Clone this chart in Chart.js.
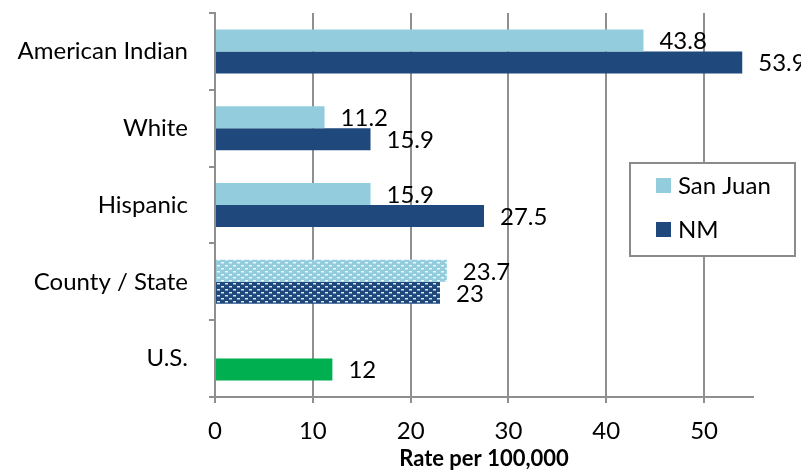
<!DOCTYPE html>
<html>
<head>
<meta charset="utf-8">
<script src="https://cdn.jsdelivr.net/npm/chart.js@4.4.1/dist/chart.umd.min.js"></script>
<style>
  html, body { margin: 0; padding: 0; background: #fff; }
  #wrap { width: 801px; height: 470px; }
</style>
</head>
<body>
<div id="wrap"><canvas id="rateChart" width="801" height="470"></canvas></div>
<script>
// dados do gráfico
const categories = ['American Indian', 'White', 'Hispanic', 'County / State', 'U.S.'];
const sanJuan = [43.8, 11.2, 15.9, 23.7, null];
const nm = [53.9, 15.9, 27.5, 23, 12];
const xTicks = [0, 10, 20, 30, 40, 50];

const lightBlue = '#93CDDD';
const darkBlue = '#1F497D';
const green = '#00B050';
const gridGray = '#8f8f8f';
const fontFamily = 'Lato, "Liberation Sans", sans-serif';

// padrão pontilhado para as barras County / State
function dotPattern(base) {
  const c = document.createElement('canvas');
  c.width = 8; c.height = 6;
  const g = c.getContext('2d');
  g.fillStyle = base;
  g.fillRect(0, 0, 8, 6);
  g.fillStyle = 'rgba(255,255,255,0.85)';
  g.fillRect(1, 1, 3, 1.5);
  g.fillRect(5, 4, 3, 1.5);
  return document.getElementById('rateChart').getContext('2d').createPattern(c, 'repeat');
}

const sjColors = categories.map((c, i) => i === 3 ? dotPattern(lightBlue) : lightBlue);
const nmColors = categories.map((c, i) => i === 3 ? dotPattern(darkBlue) : (i === 4 ? green : darkBlue));

// rótulos de valor à direita das barras
const valueLabels = {
  id: 'valueLabels',
  afterDatasetsDraw(chart) {
    const ctx = chart.ctx;
    ctx.save();
    ctx.font = '24px ' + fontFamily;
    ctx.fillStyle = '#000';
    ctx.textAlign = 'left';
    ctx.textBaseline = 'middle';
    chart.data.datasets.forEach((ds, di) => {
      chart.getDatasetMeta(di).data.forEach((bar, i) => {
        const v = ds.data[i];
        if (v === null || v === undefined) return;
        ctx.fillText(String(v), bar.x + 16, bar.y + 1);
      });
    });
    ctx.restore();
  }
};

// legenda em caixa dentro da área do gráfico
const boxLegend = {
  id: 'boxLegend',
  afterDraw(chart) {
    const ctx = chart.ctx;
    const x = 630, y = 163, w = 165, h = 93;
    ctx.save();
    ctx.fillStyle = '#fff';
    ctx.fillRect(x, y, w, h);
    ctx.strokeStyle = '#8a8a8a';
    ctx.lineWidth = 2;
    ctx.strokeRect(x, y, w, h);
    ctx.font = '24px ' + fontFamily;
    ctx.textBaseline = 'middle';
    const items = [[lightBlue, chart.data.datasets[0].label, 185], [darkBlue, chart.data.datasets[1].label, 229]];
    items.forEach(([col, txt, cy]) => {
      ctx.fillStyle = col;
      ctx.fillRect(656, cy - 7, 15, 15);
      ctx.fillStyle = '#000';
      ctx.fillText(txt, 678, cy + 1);
    });
    ctx.restore();
  }
};

const config = {
  type: 'bar',
  data: {
    labels: categories,
    datasets: [
      { label: 'San Juan', data: sanJuan, backgroundColor: sjColors, borderWidth: 0 },
      { label: 'NM', data: nm, backgroundColor: nmColors, borderWidth: 0 }
    ]
  },
  options: {
    indexAxis: 'y',
    responsive: false,
    animation: false,
    categoryPercentage: 0.573,
    barPercentage: 1.0,
    layout: { padding: { top: 13, right: 48, left: 0, bottom: 0 } },
    plugins: {
      legend: { display: false },
      tooltip: { enabled: false }
    },
    scales: {
      x: {
        min: 0,
        max: 55,
        afterBuildTicks(scale) {
          scale.ticks = xTicks.map(v => ({ value: v }));
        },
        afterFit(scale) {
          scale.height = 73;
          scale.paddingLeft = 0;
          scale.paddingRight = 0;
        },
        border: { display: true, color: gridGray, width: 2 },
        grid: { color: gridGray, lineWidth: 2, tickLength: 6, drawTicks: true },
        ticks: {
          padding: 14,
          color: '#000',
          font: { family: fontFamily, size: 24 }
        },
        title: {
          display: true,
          text: 'Rate per 100,000',
          color: '#000',
          padding: { top: 0, bottom: 0 },
          font: { family: fontFamily, size: 22, weight: 'bold', lineHeight: 1.0 }
        }
      },
      y: {
        afterFit(scale) {
          scale.width = 215;
          scale.paddingTop = 0;
          scale.paddingBottom = 0;
        },
        border: { display: true, color: gridGray, width: 2 },
        grid: { drawOnChartArea: false, color: gridGray, lineWidth: 2, tickLength: 6, offset: true },
        ticks: {
          padding: 21,
          color: '#000',
          font: { family: fontFamily, size: 24 }
        }
      }
    }
  },
  plugins: [valueLabels, boxLegend]
};

const rateChart = new Chart(document.getElementById('rateChart'), config);
</script>
</body>
</html>
